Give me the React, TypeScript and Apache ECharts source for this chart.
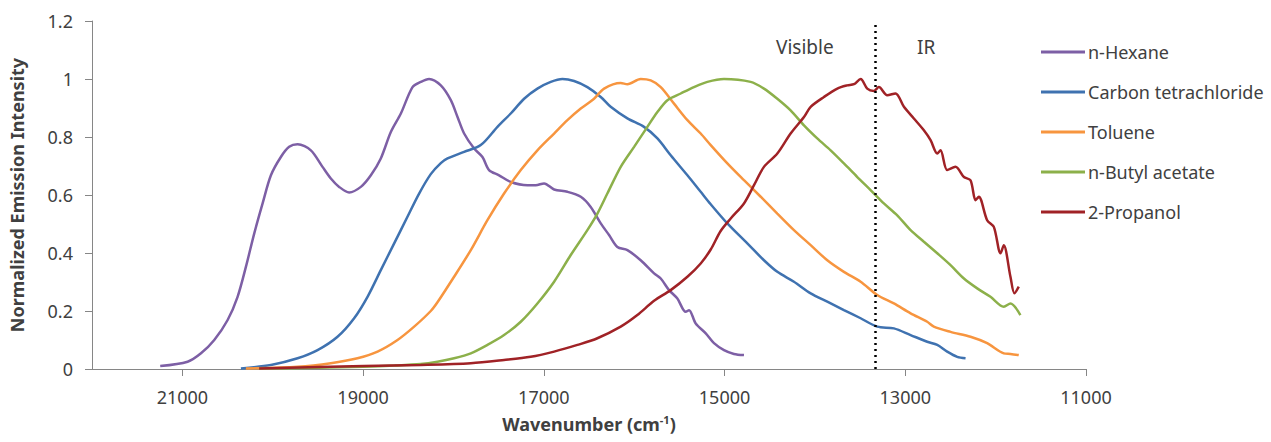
import React, { useEffect, useRef } from "react";
import * as echarts from "echarts";

const seriesNames = ["n-Hexane", "Carbon tetrachloride", "Toluene", "n-Butyl acetate", "2-Propanol"];
const seriesColors = ["#7D5FA5", "#3F72B0", "#F7953F", "#8CB04A", "#A02226"];

const hexane: [number, number][] = [
  [21245, 0.010], [20942, 0.025], [20794, 0.054], [20647, 0.10], [20499, 0.169], [20389, 0.249],
  [20297, 0.352], [20205, 0.467], [20112, 0.571], [20020, 0.668], [19910, 0.731], [19818, 0.766],
  [19725, 0.775], [19578, 0.754], [19449, 0.697], [19357, 0.657], [19265, 0.628], [19154, 0.609],
  [19025, 0.628], [18914, 0.668], [18804, 0.726], [18693, 0.817], [18582, 0.881], [18453, 0.972],
  [18361, 0.990], [18270, 1.0], [18140, 0.978], [18029, 0.927], [17955, 0.869], [17882, 0.812],
  [17771, 0.760], [17679, 0.731], [17606, 0.686], [17495, 0.668], [17366, 0.645], [17181, 0.634],
  [17089, 0.634], [16997, 0.640], [16886, 0.619], [16739, 0.611], [16591, 0.594], [16481, 0.559],
  [16370, 0.502], [16278, 0.462], [16186, 0.421], [16075, 0.410], [15928, 0.375], [15780, 0.330],
  [15706, 0.312], [15614, 0.272], [15522, 0.243], [15430, 0.197], [15393, 0.203], [15319, 0.157],
  [15208, 0.123], [15117, 0.089], [15006, 0.065], [14896, 0.052], [14785, 0.048],
];

const carbonTet: [number, number][] = [
  [20352, 0.002], [20020, 0.014], [19725, 0.037], [19504, 0.065], [19283, 0.111], [19099, 0.175],
  [18951, 0.249], [18804, 0.341], [18656, 0.433], [18509, 0.525], [18380, 0.605], [18251, 0.672],
  [18140, 0.710], [18066, 0.726], [17882, 0.749], [17698, 0.772], [17513, 0.835], [17366, 0.881],
  [17218, 0.932], [17071, 0.967], [16923, 0.990], [16794, 1.0], [16665, 0.993], [16518, 0.972],
  [16370, 0.938], [16260, 0.904], [16075, 0.864], [15891, 0.835], [15743, 0.795], [15596, 0.737],
  [15411, 0.668], [15264, 0.611], [15153, 0.568], [14969, 0.502], [14748, 0.433], [14564, 0.375],
  [14416, 0.335], [14232, 0.301], [14047, 0.261], [13863, 0.232], [13679, 0.203], [13494, 0.175],
  [13310, 0.146], [13126, 0.140], [12941, 0.117], [12757, 0.094], [12646, 0.083], [12536, 0.060],
  [12425, 0.042], [12333, 0.037],
];

const toluene: [number, number][] = [
  [20297, 0.002], [19725, 0.008], [19357, 0.020], [19062, 0.037], [18840, 0.060], [18619, 0.100],
  [18435, 0.146], [18251, 0.200], [18177, 0.230], [17993, 0.318], [17808, 0.410], [17624, 0.513],
  [17440, 0.605], [17255, 0.686], [17071, 0.754], [16886, 0.812], [16739, 0.858], [16591, 0.898],
  [16444, 0.932], [16333, 0.967], [16149, 0.986], [16075, 0.982], [15928, 1.0], [15817, 0.995],
  [15706, 0.972], [15559, 0.915], [15411, 0.858], [15264, 0.812], [15153, 0.772], [14969, 0.709],
  [14785, 0.651], [14600, 0.594], [14416, 0.536], [14232, 0.479], [14047, 0.427], [13863, 0.375],
  [13679, 0.335], [13494, 0.301], [13310, 0.255], [13126, 0.226], [12941, 0.192], [12757, 0.163],
  [12684, 0.146], [12499, 0.128], [12278, 0.111], [12094, 0.089], [11910, 0.054], [11836, 0.052],
  [11744, 0.048],
];

const butylAcetate: [number, number][] = [
  [20150, 0.002], [19500, 0.004], [19000, 0.008], [18650, 0.012], [18362, 0.017], [18177, 0.025],
  [17993, 0.037], [17808, 0.054], [17624, 0.083], [17440, 0.117], [17255, 0.163], [17071, 0.226],
  [16886, 0.301], [16702, 0.393], [16518, 0.479], [16407, 0.536], [16297, 0.605], [16149, 0.697],
  [16001, 0.766], [15854, 0.835], [15743, 0.886], [15632, 0.927], [15485, 0.950], [15338, 0.972],
  [15190, 0.990], [15006, 1.0], [14711, 0.990], [14564, 0.967], [14416, 0.932], [14269, 0.892],
  [14121, 0.840], [13974, 0.795], [13826, 0.754], [13679, 0.709], [13531, 0.662], [13384, 0.617],
  [13237, 0.571], [13089, 0.530], [12941, 0.479], [12794, 0.439], [12646, 0.399], [12499, 0.358],
  [12351, 0.312], [12204, 0.278], [12057, 0.249], [11910, 0.215], [11836, 0.226], [11726, 0.186],
];

const propanol: [number, number][] = [
  [20150, 0.002], [18988, 0.010], [18362, 0.014], [17808, 0.020], [17440, 0.031], [17145, 0.042],
  [16886, 0.060], [16628, 0.083], [16407, 0.106], [16149, 0.146], [15965, 0.186], [15780, 0.235],
  [15596, 0.272], [15411, 0.318], [15264, 0.364], [15153, 0.412], [15043, 0.476], [14932, 0.519],
  [14785, 0.571], [14674, 0.634], [14564, 0.697], [14416, 0.743], [14269, 0.812], [14121, 0.869],
  [14047, 0.904], [13900, 0.938], [13752, 0.967], [13642, 0.978], [13568, 0.982], [13494, 1.0],
  [13421, 0.967], [13347, 0.959], [13292, 0.972], [13200, 0.944], [13108, 0.950], [13015, 0.904],
  [12905, 0.864], [12794, 0.823], [12720, 0.789], [12646, 0.743], [12610, 0.754], [12536, 0.686],
  [12444, 0.697], [12351, 0.662], [12278, 0.651], [12222, 0.582], [12186, 0.594], [12094, 0.513],
  [12020, 0.490], [11946, 0.399], [11910, 0.427], [11836, 0.318], [11792, 0.261], [11744, 0.284],
];

const seriesData = [hexane, carbonTet, toluene, butylAcetate, propanol];

const xTickValues = [21000, 19000, 17000, 15000, 13000, 11000];
const xMin = 11000;
const xMax = 22000;
const yMin = 0;
const yMax = 1.2;
const yInterval = 0.2;
const boundary = 13333;
const regionLabels = ["Visible", "IR"];

const FONT = "'Noto Sans', sans-serif";
const TEXT = "#404040";
const AXIS = "#868686";

export default function App() {
  const ref = useRef<HTMLDivElement>(null);
  useEffect(() => {
    if (!ref.current) return;
    const chart = echarts.init(ref.current, undefined, { renderer: "svg" });
    chart.setOption({
      animation: false,
      textStyle: { fontFamily: FONT },
      grid: { left: 91, right: 185, top: 21, bottom: 73 },
      legend: {
        orient: "vertical",
        left: 1036,
        top: 36,
        itemWidth: 44,
        itemHeight: 3,
        itemGap: 18,
        icon: "rect",
        data: seriesNames,
        textStyle: { fontFamily: FONT, fontSize: 18, color: TEXT, padding: [0, 0, 0, -2], lineHeight: 22 },
      },
      xAxis: {
        type: "value",
        inverse: true,
        min: xMin,
        max: xMax,
        name: "Wavenumber (cm{sup|-1})",
        nameLocation: "middle",
        nameGap: 45,
        nameTextStyle: {
          fontFamily: FONT,
          fontSize: 18,
          fontWeight: "bold",
          color: TEXT,
          rich: {
            sup: { fontSize: 11, fontWeight: "bold", color: TEXT, verticalAlign: "top", padding: [0, 0, 9, 0] },
          },
        },
        axisLine: { show: true, lineStyle: { color: AXIS, width: 1 } },
        axisTick: { show: true, length: 7, lineStyle: { color: AXIS }, customValues: xTickValues },
        axisLabel: {
          fontFamily: FONT,
          fontSize: 18,
          color: TEXT,
          margin: 19,
          customValues: xTickValues,
          formatter: (v: number) => String(v),
        },
        splitLine: { show: false },
      },
      yAxis: {
        type: "value",
        min: yMin,
        max: yMax,
        interval: yInterval,
        name: "Normalized Emission Intensity",
        nameLocation: "middle",
        nameGap: 66,
        nameTextStyle: { fontFamily: FONT, fontSize: 18, fontWeight: "bold", color: TEXT },
        axisLine: { show: true, lineStyle: { color: AXIS, width: 1 } },
        axisTick: { show: true, length: 7, lineStyle: { color: AXIS } },
        axisLabel: {
          fontFamily: FONT,
          fontSize: 18,
          color: TEXT,
          margin: 19,
          formatter: (v: number) => String(+v.toFixed(1)),
        },
        splitLine: { show: false },
      },
      series: seriesNames.map((name, i) => ({
        name,
        type: "line",
        data: seriesData[i],
        showSymbol: false,
        symbol: "none",
        smooth: 0.3,
        lineStyle: { color: seriesColors[i], width: 2.5 },
        itemStyle: { color: seriesColors[i] },
        z: 2 + i,
        ...(i === 0
          ? {
              markLine: {
                silent: true,
                symbol: "none",
                label: { show: false },
                lineStyle: { color: "#000", type: [2, 4], width: 2.5 },
                data: [{ xAxis: boundary }],
                z: 10,
              },
            }
          : {}),
      })),
      graphic: [
        {
          type: "text",
          left: 776,
          top: 37,
          style: { text: regionLabels[0], font: `19px ${FONT}`, fill: TEXT },
        },
        {
          type: "text",
          left: 917,
          top: 37,
          style: { text: regionLabels[1], font: `19px ${FONT}`, fill: TEXT },
        },
      ],
    });
    return () => chart.dispose();
  }, []);
  return (
    <div
      ref={ref}
      style={{ position: "absolute", left: 0, top: 0, width: 1271, height: 442, background: "#fff" }}
    />
  );
}
